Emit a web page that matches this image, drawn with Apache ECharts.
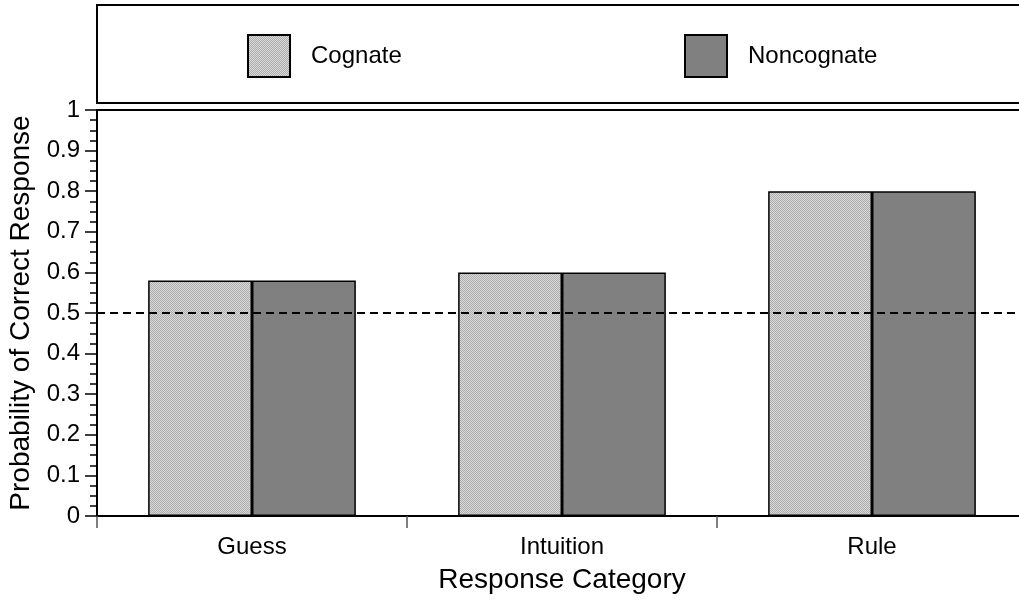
<!DOCTYPE html>
<html>
<head>
<meta charset="utf-8">
<script src="https://cdn.jsdelivr.net/npm/echarts@6/dist/echarts.min.js"></script>
<style>
  html, body { margin: 0; padding: 0; background: #fff; }
  #chart { width: 1019px; height: 601px; }
</style>
</head>
<body>
<div id="chart"></div>
<script>
// Response categories and the probability of a correct response per word type
const categories = ['Guess', 'Intuition', 'Rule'];
const cognate = [0.58, 0.60, 0.80];
const noncognate = [0.58, 0.60, 0.80];
const chanceLevel = 0.5;
const yTickLabels = ['0', '0.1', '0.2', '0.3', '0.4', '0.5', '0.6', '0.7', '0.8', '0.9', '1'];

// Fine light-grey checker texture for the cognate bars
function makeTexture() {
  const c = document.createElement('canvas');
  c.width = 2; c.height = 2;
  const ctx = c.getContext('2d');
  ctx.fillStyle = '#dadada'; ctx.fillRect(0, 0, 2, 2);
  ctx.fillStyle = '#acacac'; ctx.fillRect(0, 0, 1, 1); ctx.fillRect(1, 1, 1, 1);
  return c;
}
const texture = { image: makeTexture(), repeat: 'repeat' };

const font = 'Liberation Sans, Arial, sans-serif';
const chart = echarts.init(document.getElementById('chart'), null, { renderer: 'canvas' });

chart.setOption({
  animation: false,
  backgroundColor: '#fff',
  textStyle: { fontFamily: font, color: '#000' },
  graphic: [{
    type: 'rect',
    shape: { x: 97, y: 5, width: 940, height: 98 },
    style: { fill: 'none', stroke: '#000', lineWidth: 2 },
    z: 0
  }],
  legend: [
    {
      data: ['Cognate'], left: 247, top: 34, padding: 0, icon: 'rect',
      itemWidth: 42, itemHeight: 42,
      textStyle: { fontSize: 24, fontFamily: font, color: '#000', padding: [0, 0, 0, 16] }
    },
    {
      data: ['Noncognate'], left: 684, top: 34, padding: 0, icon: 'rect',
      itemWidth: 42, itemHeight: 42,
      textStyle: { fontSize: 24, fontFamily: font, color: '#000', padding: [0, 0, 0, 16] }
    }
  ],
  // The plot frame runs past the right edge of the page
  grid: {
    left: 97, top: 110, width: 930, height: 406,
    outerBoundsMode: 'none',
    containLabel: false,
    show: true, borderColor: '#000', borderWidth: 2, backgroundColor: 'transparent'
  },
  xAxis: {
    type: 'category',
    data: categories,
    boundaryGap: true,
    name: 'Response Category',
    nameLocation: 'middle',
    nameGap: 50,
    nameTextStyle: { fontSize: 28, fontFamily: font, color: '#000' },
    axisLine: { lineStyle: { color: '#000', width: 2 } },
    axisTick: { show: true, length: 12, lineStyle: { color: '#555', width: 1.5 } },
    axisLabel: { fontSize: 24, fontFamily: font, color: '#000', margin: 19 }
  },
  yAxis: {
    type: 'value',
    min: 0, max: 1, interval: 0.1,
    name: 'Probability of Correct Response',
    nameLocation: 'middle',
    nameGap: 60,
    nameTextStyle: { fontSize: 28, fontFamily: font, color: '#000' },
    axisLine: { show: true, lineStyle: { color: '#000', width: 2 } },
    axisTick: { show: true, length: 12, lineStyle: { color: '#000', width: 1.5 } },
    minorTick: { show: true, splitNumber: 4, length: 7, lineStyle: { color: '#000', width: 1.5 } },
    splitLine: { show: false },
    axisLabel: {
      fontSize: 24, fontFamily: font, color: '#000', margin: 17,
      formatter: v => yTickLabels[Math.round(v * 10)]
    }
  },
  series: [
    {
      name: 'Cognate',
      type: 'bar',
      data: cognate,
      barGap: '0%',
      barCategoryGap: '33%',
      itemStyle: { color: texture, borderColor: '#000', borderWidth: 1.5 },
      markLine: {
        silent: true,
        symbol: 'none',
        label: { show: false },
        lineStyle: { color: '#000', width: 2, type: [8, 5] },
        data: [{ yAxis: chanceLevel }],
        z: 10
      },
      z: 2
    },
    {
      name: 'Noncognate',
      type: 'bar',
      data: noncognate,
      barGap: '0%',
      barCategoryGap: '33%',
      itemStyle: { color: '#808080', borderColor: '#000', borderWidth: 1.5 },
      z: 2
    }
  ]
});
</script>
</body>
</html>
